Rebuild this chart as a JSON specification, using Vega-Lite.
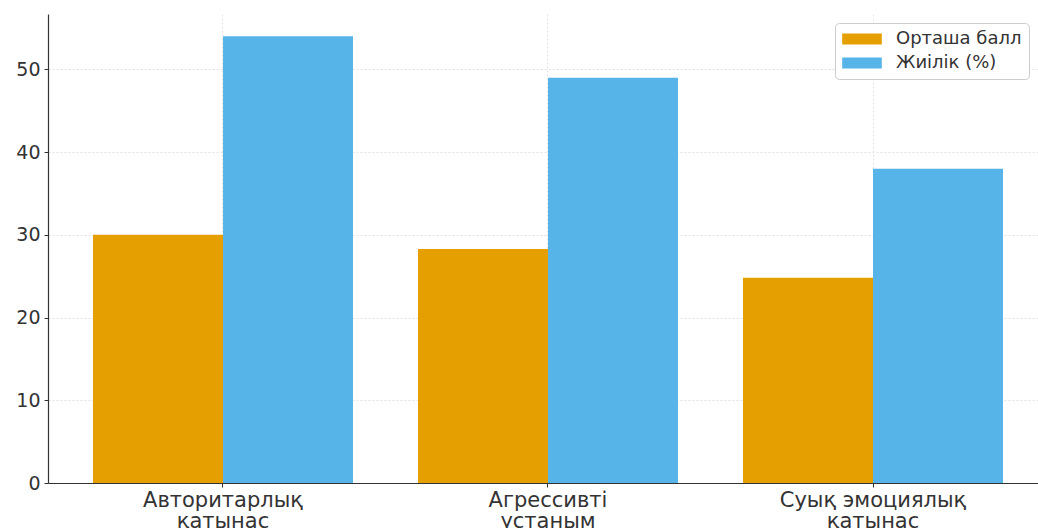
{
  "$schema": "https://vega.github.io/schema/vega-lite/v6.json",
  "autosize": {"type": "none"},
  "padding": {"left": 48, "top": 14, "right": 0, "bottom": 45},
  "width": 990,
  "height": 469,
  "background": "white",
  "config": {"font": "DejaVu Sans", "view": {"stroke": null}},
  "data": {"values": [
    {"cat": "Авторитарлық\nқатынас", "series": "Орташа балл", "value": 30},
    {"cat": "Авторитарлық\nқатынас", "series": "Жиілік (%)", "value": 54},
    {"cat": "Агрессивті\nұстаным", "series": "Орташа балл", "value": 28.3},
    {"cat": "Агрессивті\nұстаным", "series": "Жиілік (%)", "value": 49},
    {"cat": "Суық эмоциялық\nқатынас", "series": "Орташа балл", "value": 24.8},
    {"cat": "Суық эмоциялық\nқатынас", "series": "Жиілік (%)", "value": 38}
  ]},
  "mark": {"type": "bar"},
  "encoding": {
    "x": {
      "field": "cat", "type": "nominal", "sort": null, "title": null,
      "scale": {"paddingInner": 0.2, "paddingOuter": 0.123, "align": 0.5625},
      "axis": {
        "labelAngle": 0, "labelExpr": "split(datum.label, '\\n')",
        "labelFontSize": 21, "labelColor": "#333333", "labelLineHeight": 21,
        "labelPadding": 2, "bandPosition": 0.5, "labelLimit": 0,
        "domainColor": "#333333", "domainWidth": 1.2,
        "tickColor": "#333333", "tickSize": 4,
        "grid": true, "gridColor": "#dcdcdc", "gridDash": [2, 2], "gridWidth": 0.8
      }
    },
    "xOffset": {"field": "series", "type": "nominal", "sort": ["Орташа балл", "Жиілік (%)"], "scale": {"paddingInner": 0, "paddingOuter": 0}},
    "y": {
      "field": "value", "type": "quantitative", "title": null,
      "scale": {"domain": [0, 56.7], "nice": false},
      "axis": {
        "values": [0, 10, 20, 30, 40, 50],
        "labelFontSize": 19, "labelColor": "#333333", "labelPadding": 4,
        "domainColor": "#333333", "domainWidth": 1.2,
        "tickColor": "#333333", "tickSize": 4,
        "grid": true, "gridColor": "#dcdcdc", "gridDash": [2, 2], "gridWidth": 0.8
      }
    },
    "color": {
      "field": "series", "type": "nominal", "sort": ["Орташа балл", "Жиілік (%)"],
      "scale": {"domain": ["Орташа балл", "Жиілік (%)"], "range": ["#E69F00", "#56B4E9"]},
      "legend": {
        "title": null, "orient": "none", "legendX": 787, "legendY": 9,
        "symbolType": "M-3.6,-1H3.6V1H-3.6Z", "symbolSize": 121, "symbolOffset": 11,
        "symbolStrokeWidth": 0, "labelFontSize": 18, "labelColor": "#333333",
        "rowPadding": 6, "labelOffset": 25,
        "fillColor": "white", "strokeColor": "#cccccc", "cornerRadius": 4, "padding": 7
      }
    }
  }
}
